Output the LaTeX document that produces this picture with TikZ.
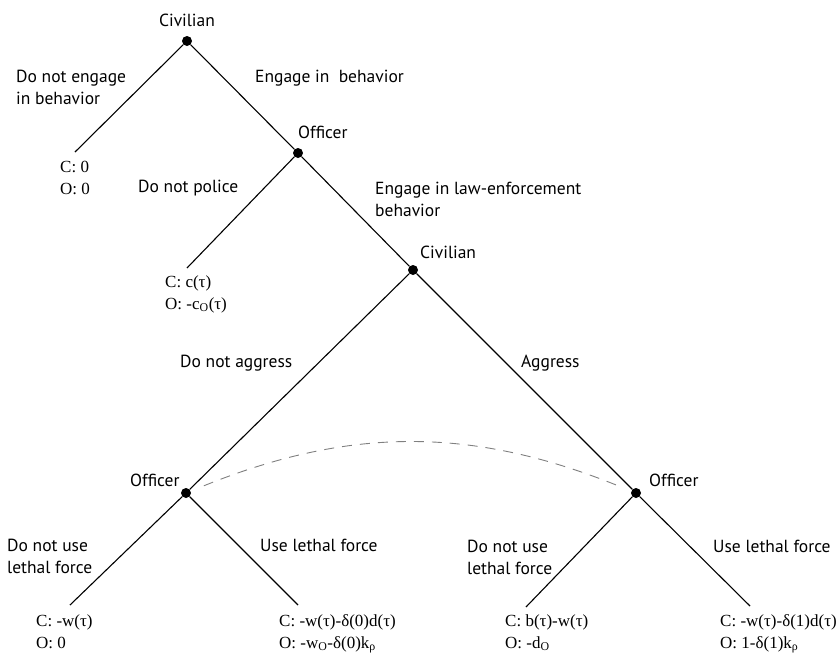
\documentclass[tikz,border=0pt]{standalone}
\usepackage{fontspec}
\setmainfont{Liberation Serif}
\newfontfamily\movefont{PT Sans}
\usepackage{tikz}
\usetikzlibrary{positioning}

\begin{document}
\begin{tikzpicture}[
  x=1pt, y=-1pt,
  dot/.style={circle, fill=black, inner sep=0pt, minimum size=10pt},
  branch/.style={line width=1.1pt},
  info/.style={gray, line width=0.9pt, dash pattern=on 10pt off 8pt},
  move/.style={font=\movefont\fontsize{17.5}{22}\selectfont, anchor=base west, align=left, inner sep=0pt},
  payoff/.style={font=\fontsize{17}{22}\selectfont, anchor=base west, align=left, inner sep=0pt}
]
\useasboundingbox (0,0) rectangle (839,657);

% Decision nodes
\node[dot] (root) at (187,41) {};
\node[dot] (off1) at (298,153) {};
\node[dot] (civ2) at (413,270) {};
\node[dot] (offL) at (186,493) {};
\node[dot] (offR) at (636,493) {};

% Terminal points
\coordinate (end1) at (75,152);
\coordinate (end2) at (187,268);
\coordinate (end3) at (70,605);
\coordinate (end4) at (298,605);
\coordinate (end5) at (526,607);
\coordinate (end6) at (750,606);

% Player labels
\node[move, anchor=base, above=9pt of root] (rootlab) {Civilian};
\node[move] (off1lab) at (298,138) {Officer};
\node[move] (civ2lab) at (420,258) {Civilian};
\node[move] (offLlab) at (130,486) {Officer};
\node[move] (offRlab) at (649,486) {Officer};

% Branches
\draw[branch] (root) -- (end1);
\draw[branch] (root) -- (off1);
\draw[branch] (off1) -- (end2);
\draw[branch] (off1) -- (civ2);
\draw[branch] (civ2) -- (offL);
\draw[branch] (civ2) -- (offR);
\draw[branch] (offL) -- (end3);
\draw[branch] (offL) -- (end4);
\draw[branch] (offR) -- (end5);
\draw[branch] (offR) -- (end6);

% Information set
\draw[info, shorten <=14pt, shorten >=14pt] (offL) to[out=22, in=158] (offR);

% Action labels (two-line nodes sit on their last baseline)
\node[move] (a1) at (16,104) {Do not engage\\in behavior};
\node[move] (a2) at (255,82) {Engage in\ \ behavior};
\node[move] (a3) at (138,192) {Do not police};
\node[move] (a4) at (375,216) {Engage in law-enforcement\\behavior};
\node[move] (a5) at (180,367) {Do not aggress};
\node[move] (a6) at (521,367) {Aggress};
\node[move] (a7) at (7,573) {Do not use\\lethal force};
\node[move] (a8) at (260,551) {Use lethal force};
\node[move] (a9) at (467,574) {Do not use\\lethal force};
\node[move] (a10) at (713,552) {Use lethal force};

% Payoffs
\node[payoff] (p1) at (60,194) {C: 0\\O: 0};
\node[payoff] (p2) at (165,309) {C: c(τ)\\O: -c\textsubscript{O}(τ)};
\node[payoff] (p3) at (36,648) {C: -w(τ)\\O: 0};
\node[payoff] (p4) at (279,648) {C: -w(τ)-δ(0)d(τ)\\O: -w\textsubscript{O}-δ(0)k\textsubscript{ρ}};
\node[payoff] (p5) at (505,648) {C: b(τ)-w(τ)\\O: -d\textsubscript{O}};
\node[payoff] (p6) at (720,648) {C: -w(τ)-δ(1)d(τ)\\O: 1-δ(1)k\textsubscript{ρ}};

\end{tikzpicture}
\end{document}
